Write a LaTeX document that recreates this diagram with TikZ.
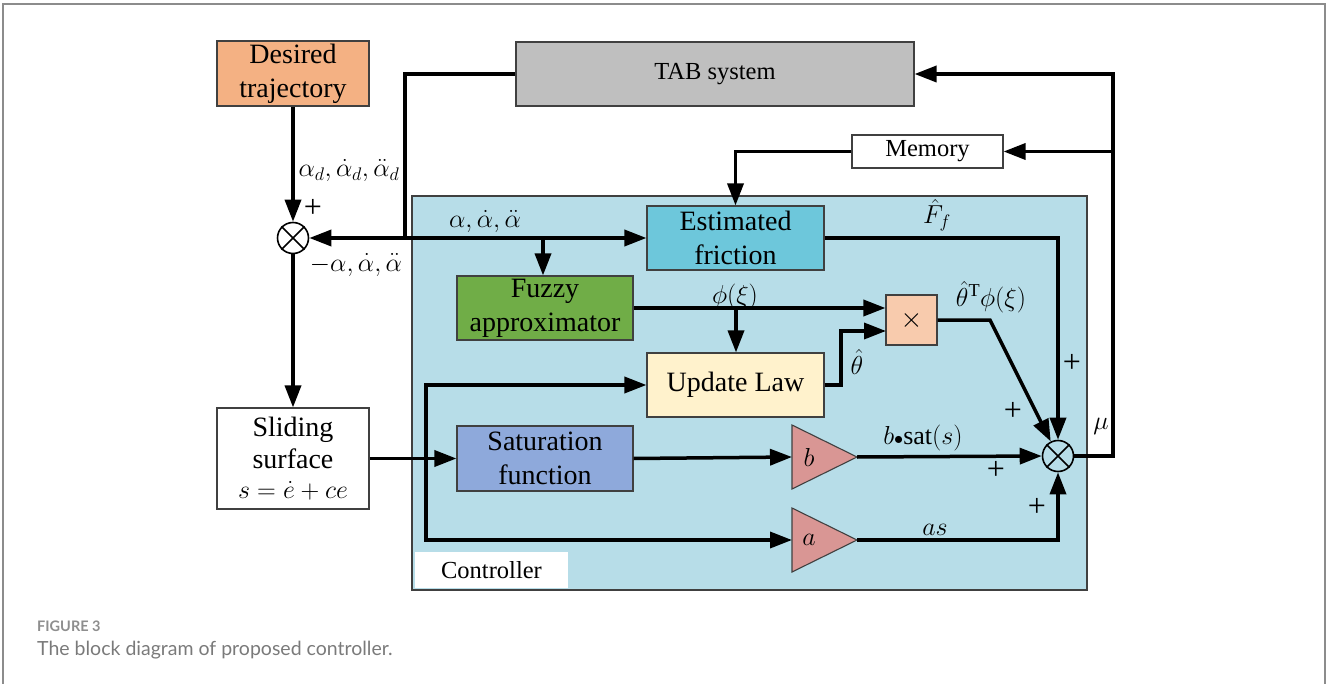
\RequirePackage{fix-cm}
\documentclass[tikz,border=0pt]{standalone}
\usepackage{fontspec}
\setmainfont{Liberation Serif}
\newfontfamily\capf{Lato}
\usetikzlibrary{arrows.meta,calc}
\newcommand\fbig{\fontsize{28}{34}\selectfont}
\newcommand\fsmall{\fontsize{24.5}{30}\selectfont}
\newcommand\fmath{\fontsize{26}{30}\selectfont}
\newcommand\fplus{\fontsize{32}{34}\selectfont}
\definecolor{cdes}{HTML}{F4B183}
\definecolor{ctab}{HTML}{BFBFBF}
\definecolor{cctrl}{HTML}{B7DDE8}
\definecolor{cest}{HTML}{6DC7DB}
\definecolor{cfuz}{HTML}{70AD47}
\definecolor{cupd}{HTML}{FFF2CC}
\definecolor{cmul}{HTML}{F8CBAD}
\definecolor{csat}{HTML}{8EA9DB}
\definecolor{ctri}{HTML}{D99694}
\definecolor{ccap}{HTML}{7A7A7A}
\begin{document}
\begin{tikzpicture}[x=1pt,y=-1pt,
  box/.style={draw=black!75, line width=1.1pt, inner sep=0pt, align=center, font=\fbig},
  tri/.style={draw=black!75, line width=1.1pt, fill=ctri},
  sumj/.style={circle, draw=black, line width=1.6pt, minimum size=31pt, inner sep=0pt},
  arr/.style={-{Triangle[length=22pt,width=16pt]}, line width=3.5pt},
  ln/.style={line width=3.5pt},
  lab/.style={font=\fmath, inner sep=0pt},
  pl/.style={font=\fplus, inner sep=0pt},
  frame/.style={draw=black!45, line width=1.5pt}]
\useasboundingbox (0,0) rectangle (1329,684);
\draw[frame] (3,684) -- (3,4) -- (1325,4) -- (1325,684);

% controller region
\node[box, fill=cctrl, minimum width=675pt, minimum height=394pt] (ctrl) at (749.5,393) {};
\node[fill=white, minimum width=153pt, minimum height=36pt, inner sep=0pt, font=\fsmall] (clab) at (491.5,570) {Controller};

% blocks
\node[box, fill=cdes, minimum width=152pt, minimum height=65pt] (des) at (293,73.5) {Desired\\trajectory};
\node[box, fill=ctab, minimum width=398pt, minimum height=64pt, font=\fsmall] (tab) at (715,74) {TAB system};
\node[box, fill=white, minimum width=151pt, minimum height=33pt, font=\fsmall] (mem) at (927.5,151.5) {Memory};
\node[box, fill=cest, minimum width=177pt, minimum height=64pt] (est) at (735.5,238) {Estimated\\friction};
\node[box, fill=cfuz, minimum width=176pt, minimum height=64pt] (fuz) at (545,308) {Fuzzy\\approximator};
\node[box, fill=cupd, minimum width=177pt, minimum height=64pt] (upd) at (735.5,385) {Update Law};
\node[box, fill=cmul, minimum width=51pt, minimum height=50pt] (mul) at (911.5,320) {$\times$};
\node[box, fill=csat, minimum width=176pt, minimum height=65pt] (sat) at (545,458.5) {Saturation\\function};
\node[box, fill=white, minimum width=152pt, minimum height=101pt, font=\fontsize{28}{32}\selectfont] (sld) at (293,458.5) {Sliding\\surface\\[-2pt]{\fmath$s=\dot{e}+ce$}};

% gains
\draw[tri] (792,425) -- (857,457) -- (792,489) -- cycle;
\node[lab] (gb) at (809,457) {$b$};
\coordinate (bin) at (792,457);
\coordinate (bout) at (857,457);
\draw[tri] (792,508) -- (857,540) -- (792,572) -- cycle;
\node[lab] (ga) at (809,540) {$a$};
\coordinate (ain) at (792,540);
\coordinate (aout) at (857,540);

% summing junctions
\node[sumj] (s1) at (293,238) {};
\node[sumj] (s2) at (1058,456) {};
\foreach \s in {s1,s2}
  \draw[line width=1.6pt] (\s.45) -- (\s.225) (\s.135) -- (\s.-45);

% connectors
\coordinate (j1) at (405,238);
\coordinate (j2) at (543,238);
\coordinate (j3) at (426,458.5);
\coordinate (j4) at (736,308);
\coordinate (j5) at (1113,151.5);
\coordinate (m2) at (886,331);
\coordinate (k1) at (990,320);

\draw[arr] (des.south) -- (s1.north);
\draw[arr] (tab.west) -| (j1) -- (s1.east);
\draw[arr] (j1) -- (est.west);
\draw[arr] (j2) -- (j2 |- fuz.north);
\draw[arr] (s1.south) -- (sld.north);
\draw[arr] (sld.east) -- (sat.west);
\draw[ln] (426,385) -- (426,540);
\draw[arr] (j3) |- (upd.west);
\draw[arr] (j3) |- (ain);
\draw[arr] (sat.east) -- (bin);
\draw[arr] (bout) -- (s2.west);
\draw[arr] (aout) -| (s2.south);
\draw[arr] (est.east) -| (s2.north);
\draw[arr] (fuz.east) -- (mul.west |- fuz.east);
\draw[arr] (j4) -- (j4 |- upd.north);
\draw[arr] (upd.east) -- (841,385) |- (m2);
\draw[arr] (mul.east) -- (k1) -- (s2);
\draw[arr] (s2.east) -- (1113,456) |- (tab.east);
\draw[arr] (j5) -- (mem.east);
\draw[arr] (mem.west) -| (est.north);

% labels
\node[lab] (l1) at (349,171) {$\alpha_d,\dot{\alpha}_d,\ddot{\alpha}_d$};
\node[pl] (p1) at (313,208) {+};
\node[lab] (l2) at (356,265) {$-\alpha,\dot{\alpha},\ddot{\alpha}$};
\node[lab] (l3) at (485,222) {$\alpha,\dot{\alpha},\ddot{\alpha}$};
\node[lab] (l4) at (937,215) {$\hat{F}_f$};
\node[lab] (l5) at (735,297) {$\phi(\xi)$};
\node[lab] (l6) at (991,297) {$\hat{\theta}^{\mathrm{T}}\phi(\xi)$};
\node[lab] (l7) at (857,362) {$\hat{\theta}$};
\node[lab] (l8) at (923,438) {$b{\scriptstyle\bullet}\mathrm{sat}(s)$};
\node[lab] (l9) at (935,530) {$as$};
\node[lab] (l10) at (1101,426) {$\mu$};
\node[pl] (p2) at (1072,363) {+};
\node[pl] (p3) at (1013,411) {+};
\node[pl] (p4) at (996,470) {+};
\node[pl] (p5) at (1037,507) {+};

% caption
\node[anchor=base west, inner sep=0pt, font=\capf\bfseries\fontsize{14.5}{16}\selectfont, text=ccap!85] (cap1) at (37,631) {FIGURE 3};
\node[anchor=base west, inner sep=0pt, font=\capf\fontsize{19.5}{22}\selectfont, text=ccap] (cap2) at (37,655) {The block diagram of proposed controller.};
\end{tikzpicture}
\end{document}
